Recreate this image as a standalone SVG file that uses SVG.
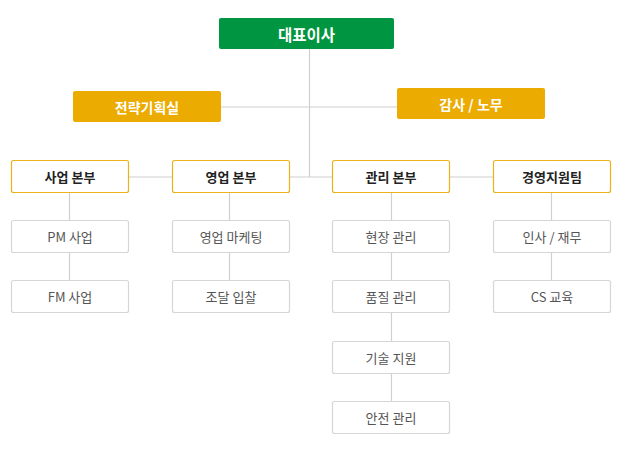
<svg xmlns="http://www.w3.org/2000/svg" width="623" height="452" viewBox="0 0 623 452">
<style>
text{font-family:"Noto Sans CJK KR","Noto Sans",sans-serif;text-anchor:middle;dominant-baseline:central;font-size:13px}
.top rect{fill:#009540;rx:2px}
.top text{fill:#fff;font-weight:bold;font-size:15.5px}
.y rect{fill:#EBAB00;rx:2px}
.y text{fill:#fff;font-weight:bold;font-size:14px}
.d rect{fill:#fff;stroke:#EBB21A;stroke-width:1.2;rx:2px}
.d text{fill:#222;font-weight:bold}
.c rect{fill:#fff;stroke:#d6d6d6;stroke-width:1.2;rx:2px}
.c text{fill:#555}
#connectors line{stroke:#cfcfcf;stroke-width:1.2;fill:none}
</style>
<rect width="623" height="452" fill="#fff"/>
<g id="connectors">
<line x1="309.5" y1="49" x2="309.5" y2="177"/>
<line x1="221" y1="107" x2="397" y2="107"/>
<line x1="128" y1="177" x2="172" y2="177"/>
<line x1="289" y1="177" x2="332" y2="177"/>
<line x1="449" y1="177" x2="493" y2="177"/>
<line x1="69.5" y1="193" x2="69.5" y2="280"/>
<line x1="229.5" y1="193" x2="229.5" y2="280"/>
<line x1="391.5" y1="193" x2="391.5" y2="401"/>
<line x1="551.5" y1="193" x2="551.5" y2="280"/>
</g>
<g id="ceo" class="top"><rect x="219" y="18" width="175" height="31"/><text x="306.5" y="33.5">대표이사</text></g>
<g id="strategy" class="y"><rect x="73" y="91" width="148" height="31"/><text x="147" y="106.5">전략기획실</text></g>
<g id="audit" class="y"><rect x="397" y="88" width="148" height="31"/><text x="471" y="103.5">감사 / 노무</text></g>
<g id="div1" class="d"><rect x="11.5" y="160.5" width="117" height="32"/><text x="70" y="176.5">사업 본부</text></g>
<g id="div2" class="d"><rect x="172.5" y="160.5" width="117" height="32"/><text x="231" y="176.5">영업 본부</text></g>
<g id="div3" class="d"><rect x="332.5" y="160.5" width="117" height="32"/><text x="391" y="176.5">관리 본부</text></g>
<g id="div4" class="d"><rect x="493.5" y="160.5" width="117" height="32"/><text x="552" y="176.5">경영지원팀</text></g>
<g id="pm" class="c"><rect x="11.5" y="220.5" width="117" height="32"/><text x="70" y="236.5">PM 사업</text></g>
<g id="fm" class="c"><rect x="11.5" y="280.5" width="117" height="32"/><text x="70" y="296.5">FM 사업</text></g>
<g id="mkt" class="c"><rect x="172.5" y="220.5" width="117" height="32"/><text x="231" y="236.5">영업 마케팅</text></g>
<g id="bid" class="c"><rect x="172.5" y="280.5" width="117" height="32"/><text x="231" y="296.5">조달 입찰</text></g>
<g id="site" class="c"><rect x="332.5" y="220.5" width="117" height="32"/><text x="391" y="236.5">현장 관리</text></g>
<g id="qa" class="c"><rect x="332.5" y="280.5" width="117" height="32"/><text x="391" y="296.5">품질 관리</text></g>
<g id="tech" class="c"><rect x="332.5" y="341.5" width="117" height="32"/><text x="391" y="357.5">기술 지원</text></g>
<g id="safety" class="c"><rect x="332.5" y="401.5" width="117" height="32"/><text x="391" y="417.5">안전 관리</text></g>
<g id="hr" class="c"><rect x="493.5" y="220.5" width="117" height="32"/><text x="552" y="236.5">인사 / 재무</text></g>
<g id="cs" class="c"><rect x="493.5" y="280.5" width="117" height="32"/><text x="552" y="296.5">CS 교육</text></g>
</svg>
